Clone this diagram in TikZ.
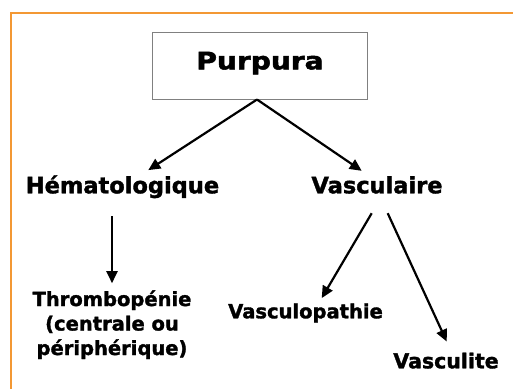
\documentclass[tikz,border=0pt]{standalone}
\usepackage{fontspec}
\setmainfont{DejaVu Sans}[UprightFont={* Bold},BoldFont={* Bold},FakeBold=1.6]
\newfontfamily\purfont{DejaVu Sans}[UprightFont={* Bold},BoldFont={* Bold},FakeStretch=1.17,FakeBold=2.2]
\usetikzlibrary{arrows.meta,calc}
\definecolor{frameorange}{RGB}{243,152,52}
\definecolor{boxgray}{RGB}{128,128,128}
\begin{document}
\begin{tikzpicture}[x=1pt,y=-1pt,
  lbl/.style={inner sep=0pt,anchor=base,font=\fontsize{22.5}{27}\selectfont},
  sub/.style={inner sep=0pt,font=\fontsize{19.5}{24.5}\selectfont},
  arr/.style={line width=2.2pt,-{Triangle[length=12pt,width=11pt]}}]
\useasboundingbox (0,0) rectangle (513,389);
\draw[frameorange,line width=1.6pt] (11,13) -- (513,13);
\draw[frameorange,line width=2pt] (11,12.2) -- (11,389);
\node[draw=boxgray,line width=0.9pt,minimum width=215.5pt,minimum height=66.7pt,inner sep=0pt] (box) at (260,65.7) {};
\node[inner sep=0pt,anchor=base,font=\purfont\fontsize{24}{28}\selectfont] (pur) at (260,69.3) {Purpura};
\node[lbl] (hema) at (122.5,193.3) {Hématologique};
\node[lbl] (vasc) at (377,193.3) {Vasculaire};
\node[sub,align=center,anchor=north] (thrombo) at (112,290.2) {Thrombopénie\\(centrale ou\\périphérique)};
\node[sub,anchor=base] (vpath) at (305.5,318.3) {Vasculopathie};
\node[sub,anchor=base,font=\fontsize{20.5}{24.5}\selectfont] (vlite) at (446,368.3) {Vasculite};
\draw[arr] ($(box.south)+(-3,0)$) -- ($(hema.north)+(25.8,-5)$);
\draw[arr] ($(box.south)+(-3,0)$) -- ($(vasc.north)+(-15.3,-5.2)$);
\draw[arr] ($(hema.south -| thrombo.north)+(0,18)$) -- ($(thrombo.north)+(0,-7)$);
\draw[arr] ($(vasc.south)+(-5.3,19.4)$) -- ($(vpath.north)+(16.2,-5.2)$);
\draw[arr] ($(vasc.south)+(10.7,19.4)$) -- ($(vlite.north)+(0.7,-11)$);
\end{tikzpicture}
\end{document}
